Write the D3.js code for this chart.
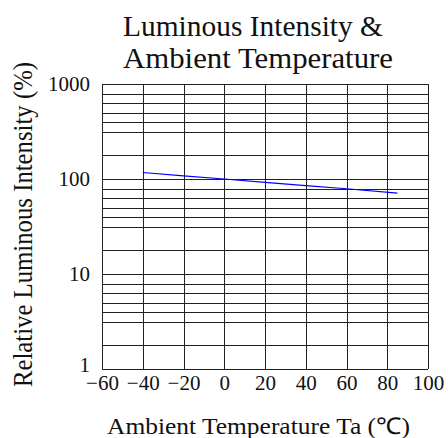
<!DOCTYPE html>
<html>
<head>
<meta charset="utf-8">
<script src="https://cdn.jsdelivr.net/npm/d3@7"></script>
</head>
<body style="margin:0; background:#fff">
<svg width="448" height="438" font-family="Liberation Serif"></svg>
<script>
// data
const temps = [-40, -20, 0, 20, 40, 60, 85];
const intensity = [117, 108, 100, 92, 85, 79, 71];
const xTicks = [-60, -40, -20, 0, 20, 40, 60, 80, 100];
const yTicks = [1, 10, 100, 1000];
// grid inside each decade, as fraction of the decade
const decadeSteps = [0.25, 0.5, 0.6, 0.7, 0.8, 0.9];
const titleLines = ["Luminous Intensity &", "Ambient Temperature"];
const xTitle = "Ambient Temperature Ta (℃)";
const yTitle = "Relative Luminous Intensity (%)";

const font = "'Liberation Serif', 'Times New Roman', serif";
const ink = "#111";
const svg = d3.select("svg");
const plotL = 102, plotR = 428, plotT = 84, plotB = 369;

const x = d3.scaleLinear().domain([-60, 100]).range([plotL, plotR]);
const y = d3.scaleLog().domain([1, 1000]).range([plotB, plotT]);

function serifText(sel, size) {
    sel.attr("font-family", "Liberation Serif")
        .style("font-family", font, "important")
        .style("font-size", size + "px", "important")
        .attr("fill", ink);
}

// horizontal grid
let hLines = [];
for (let d = 0; d < 3; d++) {
    decadeSteps.forEach(f => hLines.push(Math.pow(10, d + f)));
}
hLines = hLines.concat(yTicks);

const grid = svg.append("g")
    .attr("stroke", "#222")
    .attr("stroke-width", 1)
    .attr("shape-rendering", "crispEdges");

grid.selectAll(".h")
    .data(hLines)
    .join("line")
    .attr("x1", plotL).attr("x2", plotR)
    .attr("y1", d => Math.round(y(d)) + 0.5)
    .attr("y2", d => Math.round(y(d)) + 0.5);

grid.selectAll(".v")
    .data(xTicks)
    .join("line")
    .attr("x1", d => Math.round(x(d)) + 0.5)
    .attr("x2", d => Math.round(x(d)) + 0.5)
    .attr("y1", plotT).attr("y2", plotB);

// axes (labels only)
const xAxis = svg.append("g")
    .attr("transform", `translate(0,${plotB})`)
    .call(d3.axisBottom(x).tickValues(xTicks).tickSize(0).tickPadding(6)
        .tickFormat(d => d < 0 ? "\u2212" + Math.abs(d) : d));
xAxis.select(".domain").remove();
xAxis.attr("font-family", null).attr("font-size", null);
xAxis.selectAll("text").call(serifText, 21);

const yAxis = svg.append("g")
    .attr("transform", `translate(${plotL},0)`)
    .call(d3.axisLeft(y).tickValues(yTicks).tickSize(0).tickPadding(12)
        .tickFormat(d3.format("d")));
yAxis.select(".domain").remove();
yAxis.attr("font-family", null).attr("font-size", null);
yAxis.selectAll("text").call(serifText, 21);
yAxis.selectAll(".tick").filter(d => d === 1).select("text").attr("dy", "0.1em");

// curve
const line = d3.line()
    .x((d, i) => x(temps[i]))
    .y(d => y(d));

svg.append("path")
    .attr("d", line(intensity))
    .attr("fill", "none")
    .attr("stroke", "#0000ff")
    .attr("stroke-width", 1.2);

// titles
svg.selectAll(".title")
    .data(titleLines)
    .join("text")
    .attr("class", "title")
    .attr("x", 123)
    .attr("y", (d, i) => i === 0 ? 36 : 68)
    .call(serifText, 29)
    .attr("textLength", (d, i) => i === 0 ? 260 : 270)
    .attr("lengthAdjust", "spacingAndGlyphs")
    .text(d => d);

svg.append("text")
    .attr("x", 107)
    .attr("y", 434)
    .call(serifText, 23)
    .attr("textLength", 303)
    .attr("lengthAdjust", "spacingAndGlyphs")
    .text(xTitle);

svg.append("text")
    .attr("transform", "translate(32,387) rotate(-90)")
    .call(serifText, 27)
    .attr("textLength", 325)
    .attr("lengthAdjust", "spacingAndGlyphs")
    .text(yTitle);
</script>
</body>
</html>
